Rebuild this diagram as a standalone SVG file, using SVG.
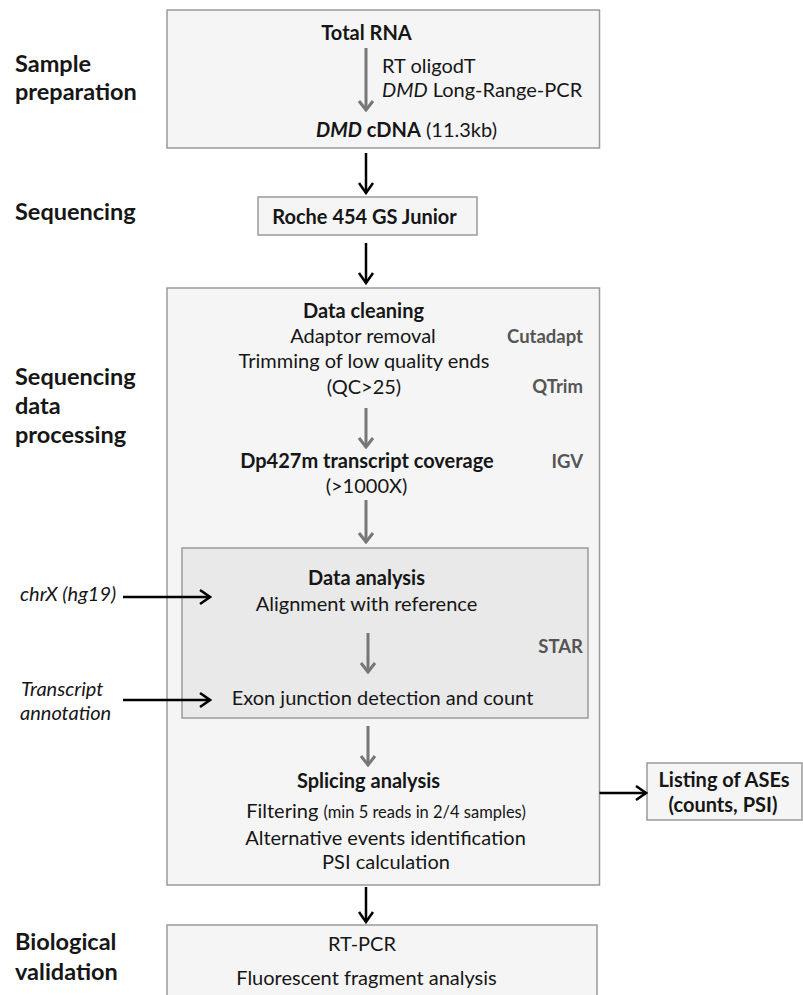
<svg xmlns="http://www.w3.org/2000/svg" width="803" height="995" viewBox="0 0 803 995">
<style>
text{font-family:Lato,"Open Sans","Liberation Sans",sans-serif;fill:#161616;}
.h{font-size:23.5px;font-weight:bold;}
.b{font-size:20px;}
.bb{font-size:20px;font-weight:bold;}
.tool{font-size:18.5px;font-weight:bold;fill:#555;text-anchor:end;}
.m{text-anchor:middle;}
.it{font-style:italic;}
.box{fill:#f5f5f5;stroke:#9a9a9a;stroke-width:1.5;}
.inner{fill:#e9e9e9;stroke:#9a9a9a;stroke-width:1.5;}
.ga{stroke:#777;stroke-width:3;fill:none;marker-end:url(#gh);}
.ka{stroke:#000;stroke-width:2.5;fill:none;marker-end:url(#kh);}
</style>
<defs>
<marker id="gh" markerUnits="userSpaceOnUse" viewBox="-12 -10 14 20" markerWidth="14" markerHeight="20" refX="0" refY="0" orient="auto">
<path d="M-9,-7 L0,0 L-9,7" fill="none" stroke="#777" stroke-width="3"/>
</marker>
<marker id="kh" markerUnits="userSpaceOnUse" viewBox="-12 -10 14 20" markerWidth="14" markerHeight="20" refX="0" refY="0" orient="auto">
<path d="M-10,-7 L0,0 L-10,7" fill="none" stroke="#000" stroke-width="2.5"/>
</marker>
</defs>
<rect width="803" height="995" fill="#fff"/>

<g id="labels">
<text class="h" x="15" y="72">Sample</text>
<text class="h" x="15" y="100">preparation</text>
<text class="h" x="15" y="220">Sequencing</text>
<text class="h" x="15" y="385">Sequencing</text>
<text class="h" x="15" y="414">data</text>
<text class="h" x="15" y="443">processing</text>
<text class="h" x="15" y="950">Biological</text>
<text class="h" x="15" y="980">validation</text>
</g>

<g id="sample-prep">
<rect class="box" x="167" y="10" width="432.5" height="138"/>
<text class="bb m" x="366.5" y="40">Total RNA</text>
<text class="b" x="382" y="73">RT oligodT</text>
<text class="b" x="382" y="97"><tspan class="it">DMD</tspan> Long-Range-PCR</text>
<text class="b m" x="406.5" y="137"><tspan font-weight="bold" font-style="italic">DMD</tspan><tspan font-weight="bold"> cDNA</tspan> (11.3kb)</text>
</g>

<g id="sequencing">
<rect class="box" x="258" y="197" width="219" height="38"/>
<text class="bb m" x="364.5" y="224">Roche 454 GS Junior</text>
</g>

<g id="processing">
<rect class="box" x="167" y="288" width="432.5" height="597"/>
<text class="bb m" x="363.5" y="318">Data cleaning</text>
<text class="b m" x="363" y="343">Adaptor removal</text>
<text class="b m" x="364" y="368">Trimming of low quality ends</text>
<text class="b m" x="364" y="394">(QC&gt;25)</text>
<text class="tool" x="583" y="343">Cutadapt</text>
<text class="tool" x="583" y="393">QTrim</text>
<text class="bb m" x="367" y="468">Dp427m transcript coverage</text>
<text class="tool" x="583" y="468">IGV</text>
<text class="b m" x="366.5" y="493">(&gt;1000X)</text>
<text class="bb m" x="368.5" y="788">Splicing analysis</text>
<text class="b m" x="386" y="818">Filtering <tspan font-size="16.5">(min 5 reads in 2/4 samples)</tspan></text>
<text class="b m" x="385.5" y="845">Alternative events identification</text>
<text class="b m" x="386" y="869">PSI calculation</text>
</g>

<g id="analysis">
<rect class="inner" x="182" y="548" width="406" height="170"/>
<text class="bb m" x="366.5" y="585">Data analysis</text>
<text class="b m" x="366.5" y="611">Alignment with reference</text>
<text class="tool" x="583" y="653">STAR</text>
<text class="b m" x="382.5" y="705">Exon junction detection and count</text>
</g>

<g id="inputs">
<text class="b it" x="20" y="601">chrX (hg19)</text>
<text class="b it" x="21" y="696">Transcript</text>
<text class="b it" x="20" y="720">annotation</text>
</g>

<g id="listing">
<rect class="box" x="647" y="763" width="155" height="57"/>
<text class="bb m" x="724" y="787" font-size="18.5">Listing of ASEs</text>
<text class="bb m" x="723" y="812" font-size="18.5">(counts, PSI)</text>
</g>

<g id="validation">
<rect class="box" x="167" y="925" width="430" height="100"/>
<text class="b m" x="362" y="951">RT-PCR</text>
<text class="b m" x="366.5" y="985">Fluorescent fragment analysis</text>
</g>

<g id="connectors">
<line class="ga" x1="366" y1="48" x2="366" y2="110"/>
<line class="ka" x1="366" y1="153" x2="366" y2="193"/>
<line class="ka" x1="366" y1="243" x2="366" y2="283"/>
<line class="ga" x1="366" y1="408" x2="366" y2="447"/>
<line class="ga" x1="366" y1="500" x2="366" y2="542"/>
<line class="ga" x1="368" y1="633" x2="368" y2="672"/>
<line class="ga" x1="368" y1="726" x2="368" y2="765"/>
<line class="ka" x1="366" y1="887" x2="366" y2="922"/>
<line class="ka" x1="123" y1="597" x2="210" y2="597"/>
<line class="ka" x1="123" y1="700" x2="210" y2="700"/>
<line class="ka" x1="599.5" y1="793" x2="646" y2="793"/>
</g>
</svg>
